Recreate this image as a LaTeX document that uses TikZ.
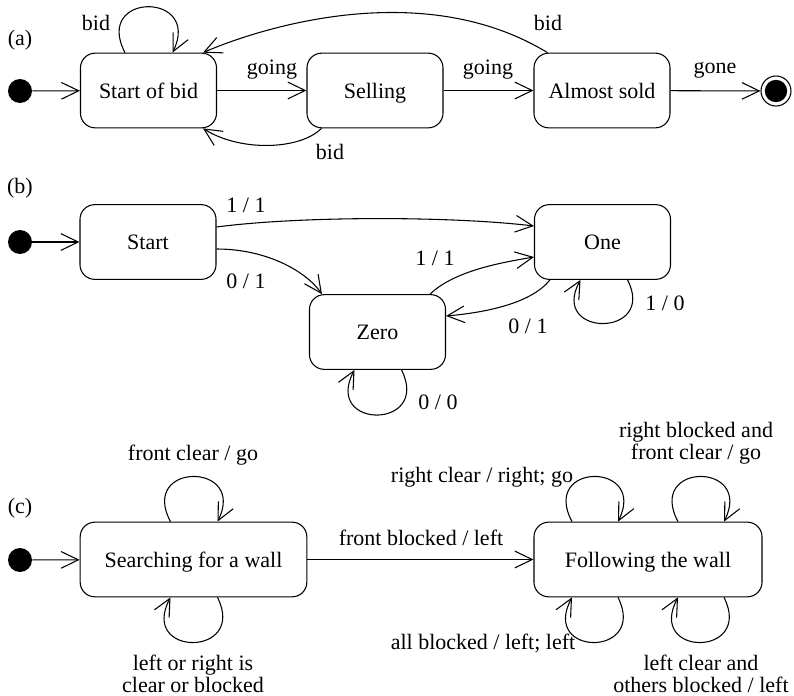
\documentclass[tikz,border=0pt]{standalone}
\usepackage{fontspec}
\setmainfont{Liberation Serif}
\usetikzlibrary{arrows.meta, calc}

\begin{document}
\begin{tikzpicture}[x=0.75pt, y=-0.75pt,
        every node/.style={font=\fontsize{16.5}{16.5}\selectfont},
        state/.style={draw, rectangle, rounded corners=11pt, minimum width=102pt, minimum height=56pt, align=center, line width=0.8pt, text height=11.5pt, text depth=0pt},
        lbl/.style={inner sep=0pt, align=center},
        initial/.style={circle, fill=black, minimum size=18pt, inner sep=0pt},
        final/.style={circle, draw, line width=0.8pt, minimum size=22.5pt, inner sep=0pt,
            path picture={\fill[black] (path picture bounding box.center) circle (8.4pt);}},
        arrow/.style={line width=0.8pt, -{Straight Barb[length=13pt, width=12.5pt]}}
    ]
        \useasboundingbox (0,0) rectangle (794,696);

        % (a) Auction
        \node[lbl] (taga) at (20,40) {(a)};
        \node[initial] (inia) at (20,91) {};
        \node[state] (sob) at (148.5,90.5) {Start of bid};
        \node[state] (sell) at (375,90.5) {Selling};
        \node[state] (almost) at (602,90.5) {Almost sold};
        \node[final] (enda) at (776,91) {};

        \draw[arrow] (inia) -- (sob);
        \draw[arrow] (sob) -- (sell);
        \draw[arrow] (sell) -- (almost);
        \draw[arrow] (almost) -- (enda);
        \draw[arrow] ($(sob.north)+(-23.5,0)$) .. controls +(-32,-61) and +(30,-61) .. ($(sob.north)+(24,0)$);
        \draw[arrow] ($(almost.north west)+(14,0)$) .. controls (420,-25) and (255,30) .. ($(sob.north east)+(-14,0)$);
        \draw[arrow] ($(sell.south west)+(15,0)$) .. controls (300,150) and (240,152) .. ($(sob.south east)+(-14,0)$);

        \node[lbl] (lbida) at (96,23) {bid};
        \node[lbl] (lgoa) at (272,70) {going};
        \node[lbl] (lgob) at (488,70) {going};
        \node[lbl] (lgone) at (715,70) {gone};
        \node[lbl] (lbidb) at (548,23) {bid};
        \node[lbl] (lbidc) at (330,152) {bid};

        % (b) Transducer
        \node[lbl] (tagb) at (20,188) {(b)};
        \node[initial] (inib) at (20,242) {};
        \node[state] (start) at (148,242) {Start};
        \node[state] (zero) at (377.5,332) {Zero};
        \node[state] (one) at (602.5,242) {One};

        \draw[arrow] (inib) -- (start);
        \draw[arrow] ($(start.east)+(0,-15)$) .. controls (300,216) and (450,216) .. ($(one.west)+(0,-16)$);
        \draw[arrow] ($(start.east)+(0,7)$) .. controls (265,249) and (305,270) .. ($(zero.north west)+(13,0)$);
        \draw[arrow] ($(zero.north east)+(-16,0)$) .. controls (455,270) and (505,262) .. ($(one.west)+(0,15)$);
        \draw[arrow] ($(one.south west)+(16,0)$) .. controls (530,305) and (480,313) .. ($(zero.east)+(0,-16)$);
        \draw[arrow] ($(one.south)+(25,0)$) .. controls +(30,58) and +(-32,58) .. ($(one.south)+(-22,0)$);
        \draw[arrow] ($(zero.south)+(24,0)$) .. controls +(30,60) and +(-32,60) .. ($(zero.south)+(-23,0)$);

        \node[lbl] (lonea) at (246,205) {1 / 1};
        \node[lbl] (lzeroa) at (246,281) {0 / 1};
        \node[lbl] (loneb) at (435,258) {1 / 1};
        \node[lbl] (lzerob) at (528,326) {0 / 1};
        \node[lbl] (lonec) at (665,303) {1 / 0};
        \node[lbl] (lzeroc) at (438,402) {0 / 0};

        % (c) Wall follower
        \node[lbl] (tagc) at (20,508) {(c)};
        \node[initial] (inic) at (20,560) {};
        \node[state, minimum width=170pt] (search) at (193.5,559.5) {Searching for a wall};
        \node[state, minimum width=171pt] (follow) at (648,559.5) {Following the wall};

        \draw[arrow] (inic) -- (search);
        \draw[arrow] (search) -- (follow);
        \draw[arrow] ($(search.north)+(-23,0)$) .. controls +(-32,-60) and +(30,-60) .. ($(search.north)+(24,0)$);
        \draw[arrow] ($(search.south)+(24,0)$) .. controls +(30,60) and +(-32,60) .. ($(search.south)+(-23,0)$);
        \draw[arrow] ($(follow.north)+(-76,0)$) .. controls +(-32,-60) and +(30,-60) .. ($(follow.north)+(-30,0)$);
        \draw[arrow] ($(follow.north)+(30,0)$) .. controls +(-32,-60) and +(30,-60) .. ($(follow.north)+(76,0)$);
        \draw[arrow] ($(follow.south)+(-30,0)$) .. controls +(30,60) and +(-32,60) .. ($(follow.south)+(-76,0)$);
        \draw[arrow] ($(follow.south)+(76,0)$) .. controls +(30,60) and +(-32,60) .. ($(follow.south)+(30,0)$);

        \node[lbl] (lfront) at (193,455) {front clear / go};
        \node[lbl] (lside) at (193,674) {left or right is\\clear or blocked};
        \node[lbl] (lblock) at (421,538) {front blocked / left};
        \node[lbl] (lright) at (482,477) {right clear / right; go};
        \node[lbl] (lrblock) at (696,443) {right blocked and\\front clear / go};
        \node[lbl] (lall) at (483,643) {all blocked / left; left};
        \node[lbl] (lleft) at (701,674) {left clear and\\others blocked / left};
    \end{tikzpicture}
\end{document}
